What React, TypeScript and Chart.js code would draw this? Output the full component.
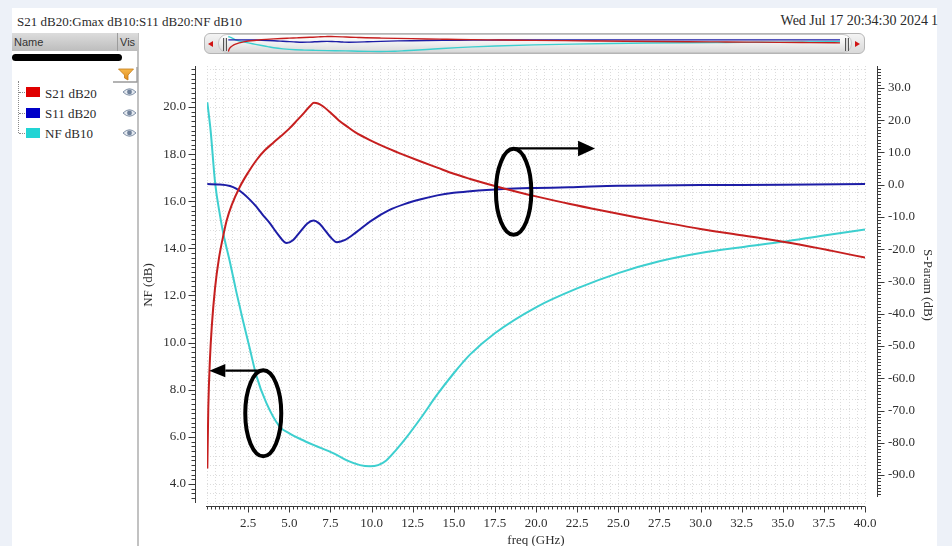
import React, { useEffect, useRef } from "react";
import { Chart, registerables } from "chart.js";

Chart.register(...registerables);

// ---------- data ----------
const SERIES_NAMES = ["S21 dB20", "S11 dB20", "NF dB10"];
const SERIES_COLORS = ["#c61f1f", "#1d1da6", "#3dcfcf"];
const SWATCH_COLORS = ["#e00000", "#0000c8", "#22d4d4"];

const S21_FREQ = [0.02, 0.08, 0.18, 0.29, 0.49, 0.73, 1.0, 1.2, 1.5, 2.0, 2.5, 3.0, 3.5, 4.0, 4.5, 5.0, 5.5, 5.9, 6.3, 6.5, 6.75, 7.0, 7.5, 8.0, 8.5, 9.0, 10, 11, 12, 13, 14, 15, 16, 17, 18, 19, 20, 22, 24, 26, 28, 30, 32, 34, 36, 38, 40];
const S21_DB = [-88, -69, -54, -44, -32, -22.7, -15.5, -11, -6.3, -0.6, 3.8, 7.6, 10.6, 12.9, 15.1, 17.4, 20.1, 22.3, 24.6, 25.4, 25.2, 24.5, 22.4, 20.0, 18.1, 16.3, 13.6, 11.3, 9.2, 7.2, 5.3, 3.4, 1.8, 0.3, -1.1, -2.4, -3.6, -5.9, -8.0, -10.0, -11.9, -13.7, -15.3, -16.8, -18.5, -20.5, -22.6];

const S11_FREQ = [0.02, 0.7, 1.4, 1.8, 2.2, 2.6, 3.0, 3.4, 3.83, 4.3, 4.85, 5.2, 5.66, 6.1, 6.47, 6.8, 7.08, 7.5, 7.9, 8.4, 9.1, 10, 11.1, 12, 13, 14, 15, 16, 17, 18, 20, 22, 25, 30, 35, 40];
const S11_DB = [0.2, 0.1, -0.4, -1.3, -2.7, -4.6, -6.8, -9.4, -12, -15.3, -18.1, -17.3, -14.6, -12.0, -11.1, -11.9, -13.5, -16.2, -17.8, -17.1, -14.6, -11.1, -7.8, -6.0, -4.5, -3.3, -2.5, -2.0, -1.6, -1.3, -1.0, -0.8, -0.3, -0.1, 0.0, 0.2];

const NF_FREQ = [0.02, 0.22, 0.49, 0.79, 1.0, 1.4, 1.8, 2.2, 2.6, 3.0, 3.6, 4.4, 5.0, 5.7, 6.5, 7.7, 8.5, 9.3, 9.9, 10.4, 10.9, 11.5, 12.15, 13, 14, 15, 16, 17.5, 20, 22.5, 25, 27.5, 30, 32.5, 35, 37.5, 40];
const NF_DB = [20.2, 19.0, 16.8, 15.4, 14.6, 13.4, 12.1, 10.9, 9.75, 8.6, 7.45, 6.45, 6.15, 5.9, 5.65, 5.3, 5.0, 4.8, 4.75, 4.8, 5.0, 5.45, 6.0, 6.8, 7.8, 8.7, 9.5, 10.4, 11.5, 12.3, 12.95, 13.45, 13.8, 14.05, 14.28, 14.55, 14.8];

const X_TICKS = [2.5, 5, 7.5, 10, 12.5, 15, 17.5, 20, 22.5, 25, 27.5, 30, 32.5, 35, 37.5, 40];
const NF_TICKS = [4, 6, 8, 10, 12, 14, 16, 18, 20];
const SP_TICKS = [-90, -80, -70, -60, -50, -40, -30, -20, -10, 0, 10, 20, 30];

const X_MIN = 0;
const X_MAX = 40;
const NF_MIN = 3.151;
const NF_MAX = 21.74;
const SP_MIN = -98.99;
const SP_MAX = 36.82;

// annotation marks (freq GHz / NF dB anchors)
const ANNOT_ELLIPSES = [
  { f: 18.64, nf: 16.4, rx: 17.7, ry: 43 },
  { f: 3.42, nf: 7.0, rx: 18, ry: 43 },
];
const ANNOT_ARROWS = [
  { f0: 18.72, f1: 23.59, nf: 18.24, head: 17, hw: 7.8 },
  { f0: 3.33, f1: 0.14, nf: 8.81, head: 16, hw: 6.7 },
];

const SERIF = '"Liberation Serif", "Times New Roman", serif';
const SANS = '"Liberation Sans", Arial, sans-serif';

function buildDatasets(width: number) {
  const series = [
    { f: S21_FREQ, v: S21_DB, axis: "ySP" },
    { f: S11_FREQ, v: S11_DB, axis: "ySP" },
    { f: NF_FREQ, v: NF_DB, axis: "yNF" },
  ];
  return series.map((s, i) => ({
    label: SERIES_NAMES[i],
    data: s.f.map((x, j) => ({ x, y: s.v[j] })),
    yAxisID: s.axis,
    borderColor: SERIES_COLORS[i],
    backgroundColor: SERIES_COLORS[i],
    borderWidth: width,
    pointRadius: 0,
    pointHoverRadius: 0,
    cubicInterpolationMode: "monotone" as const,
    fill: false,
  }));
}

const decorPlugin = {
  id: "decor",
  beforeDatasetsDraw(chart: any) {
    const { ctx, chartArea: a, scales } = chart;
    const xs = scales.x;
    const yl = scales.yNF;
    ctx.save();
    ctx.strokeStyle = "#dcdcdc";
    ctx.lineWidth = 1;
    ctx.setLineDash([1, 2]);
    ctx.beginPath();
    for (let i = 0; i <= 80; i++) {
      const px = Math.round(xs.getPixelForValue(i * 0.5)) + 0.5;
      ctx.moveTo(px, a.top);
      ctx.lineTo(px, a.bottom);
    }
    for (let k = 8; k <= 54; k++) {
      const py = Math.round(yl.getPixelForValue(k * 0.4)) + 0.5;
      if (py < a.top || py > a.bottom) continue;
      ctx.moveTo(a.left, py);
      ctx.lineTo(a.right, py);
    }
    ctx.stroke();
    ctx.restore();
  },
  afterDatasetsDraw(chart: any) {
    const { ctx, scales } = chart;
    const xs = scales.x;
    const yl = scales.yNF;
    ctx.save();
    ctx.strokeStyle = "#000";
    ctx.fillStyle = "#000";
    ctx.lineWidth = 4;
    for (const e of ANNOT_ELLIPSES) {
      ctx.beginPath();
      ctx.ellipse(xs.getPixelForValue(e.f), yl.getPixelForValue(e.nf), e.rx, e.ry, 0, 0, Math.PI * 2);
      ctx.stroke();
    }
    ctx.lineWidth = 2.2;
    for (const ar of ANNOT_ARROWS) {
      const x0 = xs.getPixelForValue(ar.f0);
      const x1 = xs.getPixelForValue(ar.f1);
      const y = yl.getPixelForValue(ar.nf);
      const dir = x1 > x0 ? 1 : -1;
      const xb = x1 - dir * ar.head;
      ctx.beginPath();
      ctx.moveTo(x0, y);
      ctx.lineTo(xb, y);
      ctx.stroke();
      ctx.beginPath();
      ctx.moveTo(x1, y);
      ctx.lineTo(xb, y - ar.hw);
      ctx.lineTo(xb, y + ar.hw);
      ctx.closePath();
      ctx.fill();
    }
    ctx.restore();
  },
  afterDraw(chart: any) {
    const { ctx, chartArea: a, scales } = chart;
    const xs = scales.x;
    const yl = scales.yNF;
    const yr = scales.ySP;
    ctx.save();
    ctx.strokeStyle = "#3a3a3a";
    ctx.lineWidth = 1;
    ctx.beginPath();
    // left axis
    const xl = a.left - 11.5;
    const lTop = a.top;
    const lBot = a.bottom - 1;
    ctx.moveTo(xl, lTop);
    ctx.lineTo(xl, lBot);
    for (let k = 0; k <= 120; k++) {
      const v = k * 0.2;
      const py = Math.round(yl.getPixelForValue(v)) + 0.5;
      if (py < lTop || py > lBot) continue;
      const major = NF_TICKS.some((t) => Math.abs(t - v) < 1e-6);
      ctx.moveTo(xl - (major ? 7 : 4), py);
      ctx.lineTo(xl, py);
    }
    // right axis
    const xr = a.right + 12.5;
    const rBot = a.bottom - 7;
    ctx.moveTo(xr, lTop);
    ctx.lineTo(xr, rBot);
    for (let v = -100; v <= 40; v++) {
      const py = Math.round(yr.getPixelForValue(v)) + 0.5;
      if (py < lTop || py > rBot) continue;
      const major = SP_TICKS.includes(v);
      ctx.moveTo(xr, py);
      ctx.lineTo(xr + (major ? 7 : 3.5), py);
    }
    // x axis
    const yx = a.bottom + 2.5;
    ctx.moveTo(a.left - 1, yx);
    ctx.lineTo(a.right, yx);
    for (let k = 0; k <= 160; k++) {
      const v = k * 0.25;
      const px = Math.round(xs.getPixelForValue(v)) + 0.5;
      const major = X_TICKS.some((t) => Math.abs(t - v) < 1e-6);
      ctx.moveTo(px, yx);
      ctx.lineTo(px, yx + (major ? 6 : 3));
    }
    ctx.stroke();
    ctx.restore();
  },
};

const tickFont = { family: SERIF, size: 13 };
const TICK_COLOR = "#2e2e2e";

function MainChart() {
  const ref = useRef<HTMLCanvasElement | null>(null);
  useEffect(() => {
    if (!ref.current) return;
    const chart = new Chart(ref.current, {
      type: "line",
      data: { datasets: buildDatasets(2) as any },
      plugins: [decorPlugin as any],
      options: {
        responsive: false,
        animation: false,
        events: [],
        layout: { padding: { left: 140, right: 12, top: 66, bottom: 0 } },
        plugins: { legend: { display: false }, tooltip: { enabled: false } },
        scales: {
          x: {
            type: "linear",
            position: "bottom",
            min: X_MIN,
            max: X_MAX,
            grid: { display: false, drawTicks: false },
            border: { display: false },
            afterBuildTicks: (s: any) => {
              s.ticks = X_TICKS.map((v) => ({ value: v }));
            },
            afterFit: (s: any) => {
              s.height = 56;
            },
            ticks: {
              autoSkip: false,
              maxRotation: 0,
              padding: 12.2,
              color: TICK_COLOR,
              font: tickFont,
              callback: (v: any) => Number(v).toFixed(1),
            },
            title: {
              display: true,
              text: "freq (GHz)",
              color: TICK_COLOR,
              font: tickFont,
              padding: { top: 0, bottom: 11.2 },
            },
          },
          yNF: {
            type: "linear",
            position: "left",
            min: NF_MIN,
            max: NF_MAX,
            grid: { display: false, drawTicks: false },
            border: { display: false },
            afterBuildTicks: (s: any) => {
              s.ticks = NF_TICKS.map((v) => ({ value: v }));
            },
            afterFit: (s: any) => {
              s.width = 67;
            },
            ticks: {
              padding: 21,
              color: TICK_COLOR,
              font: tickFont,
              callback: (v: any) => Number(v).toFixed(1),
            },
            title: {
              display: true,
              text: "NF (dB)",
              color: TICK_COLOR,
              font: tickFont,
              padding: { top: 1.2, bottom: 0 },
            },
          },
          ySP: {
            type: "linear",
            position: "right",
            min: SP_MIN,
            max: SP_MAX,
            grid: { display: false, drawTicks: false },
            border: { display: false },
            afterBuildTicks: (s: any) => {
              s.ticks = SP_TICKS.map((v) => ({ value: v }));
            },
            afterFit: (s: any) => {
              s.width = 75;
            },
            ticks: {
              padding: 23,
              color: TICK_COLOR,
              font: tickFont,
              callback: (v: any) => Number(v).toFixed(1),
            },
            title: {
              display: true,
              text: "S-Param (dB)",
              color: TICK_COLOR,
              font: tickFont,
              padding: { top: 5.2, bottom: 0 },
            },
          },
        },
      } as any,
    });
    return () => chart.destroy();
  }, []);
  return (
    <canvas
      ref={ref}
      width={952}
      height={560}
      style={{ position: "absolute", left: 0, top: 0, width: 952, height: 560, display: "block" }}
    />
  );
}

function OverviewChart() {
  const ref = useRef<HTMLCanvasElement | null>(null);
  useEffect(() => {
    if (!ref.current) return;
    const hidden = (min: number, max: number, extra: any = {}) => ({ type: "linear", display: false, min, max, ...extra });
    const chart = new Chart(ref.current, {
      type: "line",
      data: { datasets: buildDatasets(1.4) as any },
      options: {
        responsive: false,
        animation: false,
        events: [],
        layout: { padding: 0 },
        plugins: { legend: { display: false }, tooltip: { enabled: false } },
        scales: {
          x: hidden(X_MIN, X_MAX),
          yNF: hidden(NF_MIN, NF_MAX, { position: "left" }),
          ySP: hidden(SP_MIN, SP_MAX, { position: "right" }),
        },
      } as any,
    });
    return () => chart.destroy();
  }, []);
  return (
    <canvas
      ref={ref}
      width={612}
      height={18}
      style={{ position: "absolute", left: 228, top: 35, width: 612, height: 18, display: "block" }}
    />
  );
}

function Eye({ top }: { top: number }) {
  return (
    <svg width="15" height="10" viewBox="0 0 15 10" style={{ position: "absolute", left: 122, top }}>
      <path d="M1 5 Q7.5 -1.5 14 5 Q7.5 11.5 1 5Z" fill="#e3e8ef" stroke="#8090a6" strokeWidth="1" />
      <circle cx="7.5" cy="5" r="2.4" fill="#70819a" />
    </svg>
  );
}

export default function App() {
  const rowTops = [87, 107.5, 127.5];
  return (
    <div
      style={{
        position: "absolute",
        left: 0,
        top: 0,
        width: 952,
        height: 546,
        overflow: "hidden",
        background: "#edf1f8",
        fontFamily: SERIF,
      }}
    >
      <div style={{ position: "absolute", left: 12, top: 8, width: 925, height: 538, background: "#ffffff" }} />
      {/* header */}
      <div style={{ position: "absolute", left: 17, top: 14, fontSize: 13, lineHeight: "15px", color: "#2a2a2a", whiteSpace: "nowrap" }}>
        S21 dB20:Gmax dB10:S11 dB20:NF dB10
      </div>
      <div style={{ position: "absolute", right: 24, top: 13, fontSize: 14, lineHeight: "16px", color: "#2a2a2a", whiteSpace: "nowrap" }}>
        Wed Jul 17 20:34:30 2024
      </div>
      <div style={{ position: "absolute", left: 931, top: 13, fontSize: 14, lineHeight: "16px", color: "#2a2a2a" }}>1</div>

      {/* legend panel */}
      <div style={{ position: "absolute", left: 137, top: 33, width: 2, height: 513, background: "#c2c2c2" }} />
      <div
        style={{
          position: "absolute",
          left: 12,
          top: 33,
          width: 126,
          height: 18,
          background: "linear-gradient(#dcdcdc, #bdbdbd)",
        }}
      />
      <div style={{ position: "absolute", left: 117, top: 33, width: 1, height: 18, background: "#9c9c9c" }} />
      <div style={{ position: "absolute", left: 14, top: 33, fontFamily: SANS, fontSize: 11, lineHeight: "18px", color: "#333" }}>Name</div>
      <div style={{ position: "absolute", left: 120, top: 33, fontFamily: SANS, fontSize: 11, lineHeight: "18px", color: "#333" }}>Vis</div>
      <div style={{ position: "absolute", left: 12, top: 54, width: 110, height: 7, borderRadius: 4, background: "#000" }} />
      <svg width="26" height="17" viewBox="0 0 26 17" style={{ position: "absolute", left: 112, top: 66 }}>
        <defs>
          <linearGradient id="fun" x1="0" y1="0" x2="0" y2="1">
            <stop offset="0" stopColor="#f7b84a" />
            <stop offset="1" stopColor="#e08a1c" />
          </linearGradient>
        </defs>
        <path d="M6.5 3 H21.5 L16 9 V14 L12.5 12 V9 Z" fill="url(#fun)" stroke="#c27a16" strokeWidth="0.8" />
        <path d="M1 16 H25 V1" stroke="#9a9a9a" fill="none" strokeWidth="1.3" />
      </svg>
      <div style={{ position: "absolute", left: 18, top: 81, width: 0, height: 52, borderLeft: "1px dotted #8a8a8a" }} />
      {SERIES_NAMES.map((name, i) => (
        <React.Fragment key={name}>
          <div style={{ position: "absolute", left: 19, top: rowTops[i] + 5, width: 6, height: 0, borderTop: "1px dotted #8a8a8a" }} />
          <div style={{ position: "absolute", left: 26, top: rowTops[i], width: 14, height: 10, background: SWATCH_COLORS[i] }} />
          <div style={{ position: "absolute", left: 45, top: rowTops[i] - 1.5, fontSize: 13, lineHeight: "15px", color: "#2a2a2a", whiteSpace: "nowrap" }}>
            {name}
          </div>
          <Eye top={rowTops[i]} />
        </React.Fragment>
      ))}

      <MainChart />

      {/* overview strip */}
      <div
        style={{
          position: "absolute",
          left: 204,
          top: 33,
          width: 661,
          height: 21,
          boxSizing: "border-box",
          border: "1px solid #b5b5b5",
          borderRadius: 6,
          background: "linear-gradient(#f4f4f4, #d9d9d9)",
        }}
      />
      <div
        style={{
          position: "absolute",
          left: 218,
          top: 34,
          width: 634,
          height: 19,
          boxSizing: "border-box",
          border: "1px solid #c6c6c6",
          borderRadius: 9,
          background: "linear-gradient(#ffffff 0%, #f2f2f2 45%, #d8d8d8 100%)",
        }}
      />
      <div style={{ position: "absolute", left: 208, top: 41, width: 0, height: 0, borderTop: "3px solid transparent", borderBottom: "3px solid transparent", borderRight: "5px solid #d01414" }} />
      <div style={{ position: "absolute", left: 855, top: 41, width: 0, height: 0, borderTop: "3px solid transparent", borderBottom: "3px solid transparent", borderLeft: "5px solid #d01414" }} />
      <div style={{ position: "absolute", left: 223, top: 38, width: 4, height: 13, background: "linear-gradient(90deg, #555 0 35%, #d8d8d8 35% 65%, #555 65%)" }} />
      <div style={{ position: "absolute", left: 845, top: 38, width: 4, height: 13, background: "linear-gradient(90deg, #555 0 35%, #d8d8d8 35% 65%, #555 65%)" }} />
      <OverviewChart />
    </div>
  );
}
